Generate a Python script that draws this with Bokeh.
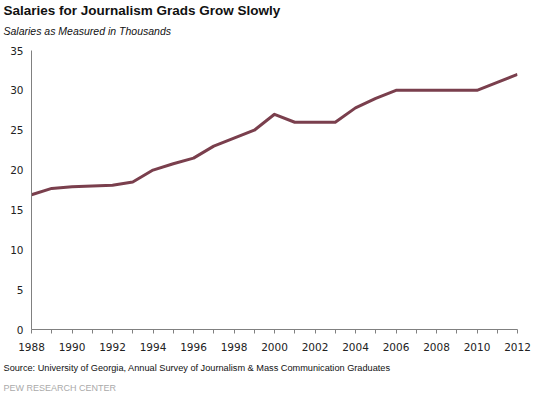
from bokeh.plotting import figure
from bokeh.models import Range1d, FixedTicker, Title
from bokeh.embed import file_html
from bokeh.resources import INLINE

years = list(range(1988, 2013))
salaries = [16.9, 17.7, 17.9, 18.0, 18.1, 18.5, 20.0, 20.8, 21.5, 23.0, 24.0, 25.0, 27.0,
            26.0, 26.0, 26.0, 27.8, 29.0, 30.0, 30.0, 30.0, 30.0, 30.0, 31.0, 32.0]
y_ticks = [0, 5, 10, 15, 20, 25, 30, 35]

title_text = "Salaries for Journalism Grads Grow Slowly"
subtitle_text = "Salaries as Measured in Thousands"
source_text = "Source: University of Georgia,  Annual Survey of Journalism & Mass Communication Graduates"
credit_text = "PEW RESEARCH CENTER"

p = figure(width=534, height=396, output_backend="svg", toolbar_location=None,
           x_range=Range1d(1988, 2012), y_range=Range1d(0, 35),
           min_border_left=31, min_border_right=17, min_border_top=50, min_border_bottom=67)
p.outline_line_color = None
p.xgrid.grid_line_color = None
p.ygrid.grid_line_color = None
p.background_fill_color = "white"
p.border_fill_color = "white"

p.line(years, salaries, line_color="#7a3f4d", line_width=3, line_join="round")

xa = p.xaxis[0]
xa.ticker = FixedTicker(ticks=years)
xa.major_label_overrides = {y: ("" if y % 2 else str(y)) for y in years}
xa.axis_line_color = "#808080"
xa.major_tick_line_color = "#808080"
xa.major_tick_in = 0
xa.major_tick_out = 4
xa.minor_tick_line_color = None
xa.major_label_standoff = 9
xa.major_label_text_font = "DejaVu Sans"
xa.major_label_text_font_size = "10.5px"
xa.major_label_text_color = "#222222"

ya = p.yaxis[0]
ya.ticker = FixedTicker(ticks=y_ticks)
ya.axis_line_color = "#808080"
ya.major_tick_line_color = None
ya.major_tick_in = 0
ya.major_tick_out = 0
ya.minor_tick_line_color = None
ya.major_label_standoff = 8
ya.major_label_text_font = "DejaVu Sans"
ya.major_label_text_font_size = "10.5px"
ya.major_label_text_color = "#222222"

def add_title(text, loc, size, style="normal", color="#111111", standoff=5, valign="bottom"):
    p.add_layout(Title(text=text, align="left", offset=-28, standoff=standoff,
                       vertical_align=valign,
                       text_font="Liberation Sans", text_font_size=size,
                       text_font_style=style, text_color=color), loc)

add_title(subtitle_text, "above", "10.5px", "italic", standoff=21.6, valign="top")
add_title(title_text, "above", "13.5px", "bold", standoff=-11.2, valign="top")
add_title(source_text, "below", "9.2px", standoff=15)
add_title(credit_text, "below", "9px", color="#aaaaaa", standoff=0.5)

open("out.html", "w").write(file_html(p, INLINE))
